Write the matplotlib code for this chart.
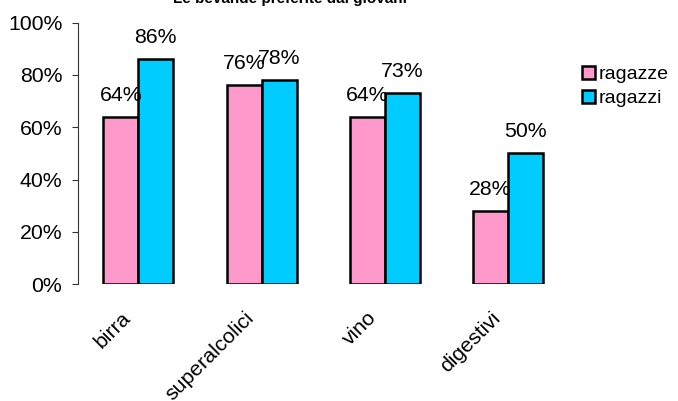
import numpy as np
import matplotlib
matplotlib.use('Agg')
import matplotlib.pyplot as plt
from matplotlib.ticker import FuncFormatter
from matplotlib.transforms import ScaledTranslation

plt.rcParams['font.family'] = ['Liberation Sans', 'DejaVu Sans']

# data
categorie = ['birra', 'superalcolici', 'vino', 'digestivi']
ragazze = [64, 76, 64, 28]
ragazzi = [86, 78, 73, 50]
serie = ['ragazze', 'ragazzi']
colori = ['#FF99CC', '#00CCFF']
titolo = 'Le bevande preferite dai giovani'

fig = plt.figure(figsize=(6.78, 4.01), dpi=100)
ax = fig.add_axes([0.115, 0.2913, 0.7235, 0.6521])

x = np.arange(len(categorie))
w = 0.284
b1 = ax.bar(x - w/2, ragazze, w, color=colori[0], edgecolor='black', linewidth=1.8, label=serie[0])
b2 = ax.bar(x + w/2, ragazzi, w, color=colori[1], edgecolor='black', linewidth=1.8, label=serie[1])

for bars, vals in [(b1, ragazze), (b2, ragazzi)]:
    for r, v in zip(bars, vals):
        ax.annotate('%d%%' % v, (r.get_x() + r.get_width()/2, v),
                    xytext=(0, 11.5), textcoords='offset points',
                    ha='center', va='baseline', fontsize=15.3)

ax.set_xlim(-0.49, 3.49)
ax.set_ylim(0, 100)
ax.set_yticks(np.arange(0, 101, 20))
ax.yaxis.set_major_formatter(FuncFormatter(lambda v, p: '%d%%' % v))
ax.tick_params(axis='y', direction='out', length=4.3, width=0.8, pad=7, labelsize=15.3, color='#333333')
ax.set_xticks(x)
ax.set_xticklabels(categorie)
ax.tick_params(axis='x', length=0, pad=22, labelsize=15.3)
sposta = ScaledTranslation(-11/100, 0, fig.dpi_scale_trans)
for t in ax.get_xticklabels():
    t.set_rotation(45)
    t.set_ha('right')
    t.set_va('center')
    t.set_rotation_mode('anchor')
    t.set_transform(t.get_transform() + sposta)

for s in ['top', 'right', 'bottom']:
    ax.spines[s].set_visible(False)
ax.spines['left'].set_color('#333333')
ax.spines['left'].set_linewidth(0.8)

fig.text(290/678, 1 - 3/401, titolo, ha='center', va='baseline', fontsize=11, fontweight='bold')

ax.legend(loc='upper left', bbox_to_anchor=(582/678, 1 - 66/401), bbox_transform=fig.transFigure,
          frameon=False, fontsize=14, handlelength=0.65, handleheight=0.65,
          handletextpad=0.2, labelspacing=0.35, borderpad=0, borderaxespad=0)

fig.savefig('out.png', dpi=100)
